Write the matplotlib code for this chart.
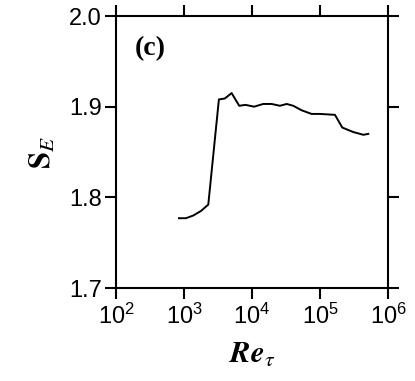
import matplotlib
matplotlib.use('Agg')
import matplotlib.pyplot as plt
import numpy as np

# data (log10 of Re_tau, S_E)
log_re = [2.926, 3.029, 3.137, 3.25, 3.357, 3.513, 3.60, 3.70, 3.812, 3.905,
          4.03, 4.166, 4.288, 4.41, 4.51, 4.607, 4.73, 4.876, 4.999, 5.22,
          5.327, 5.49, 5.637, 5.71]
s_e = [1.777, 1.777, 1.780, 1.785, 1.792, 1.908, 1.909, 1.915, 1.901, 1.902,
       1.900, 1.903, 1.903, 1.901, 1.903, 1.901, 1.896, 1.892, 1.892, 1.891,
       1.877, 1.872, 1.869, 1.870]
re_tau = [10 ** v for v in log_re]

x_ticks = [1e2, 1e3, 1e4, 1e5, 1e6]
y_ticks = [1.7, 1.8, 1.9, 2.0]

plt.rcParams['font.family'] = 'Liberation Sans'
plt.rcParams['mathtext.fontset'] = 'stix'

fig = plt.figure(figsize=(4.15, 3.81), dpi=100)
ax = fig.add_axes([0.2795, 0.244, 0.6555, 0.714])

ax.plot(re_tau, s_e, color='black', lw=1.4)

ax.set_xscale('log')
ax.set_xlim(1e2, 1e6)
ax.set_ylim(1.7, 2.0)
ax.set_xticks(x_ticks)
ax.set_xticklabels([r'$\mathregular{10^{%d}}$' % int(np.log10(t)) for t in x_ticks])
ax.set_yticks(y_ticks)
ax.set_yticklabels(['%.1f' % t for t in y_ticks])
ax.minorticks_off()

for sp in ax.spines.values():
    sp.set_linewidth(1.5)
ax.tick_params(direction='out', length=8, width=1.5, top=True, right=True,
               labelsize=17, pad=2)
ax.tick_params(axis='x', labelsize=17, pad=3)

ax.set_ylabel(r'$\mathbf{S}_{\mathit{E}}$', fontsize=22, labelpad=8)
ax.set_xlabel(r'$\mathbfit{Re}_{\tau}$', fontsize=22, labelpad=8)

ax.text(0.07, 0.88, '(c)', transform=ax.transAxes, fontsize=20,
        family='Liberation Serif', fontweight='bold', va='center')

fig.savefig('out.png', dpi=100)
